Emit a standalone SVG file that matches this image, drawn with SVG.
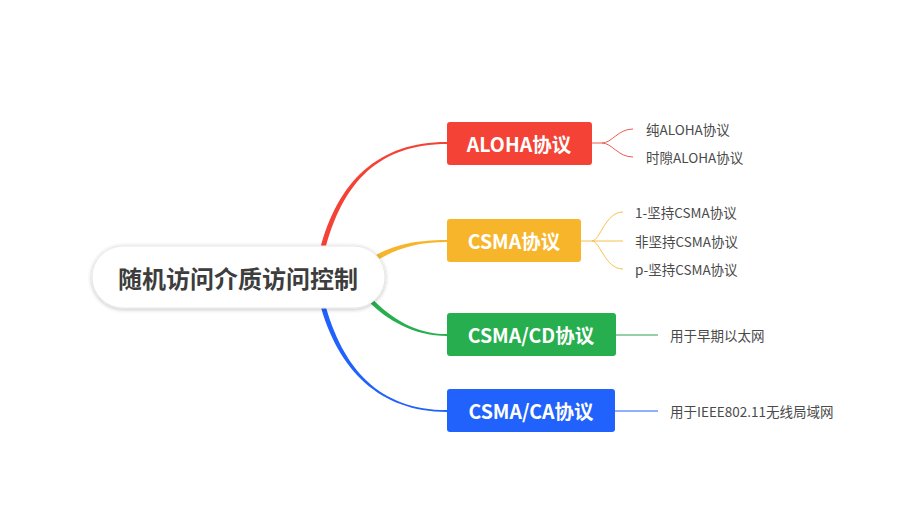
<svg xmlns="http://www.w3.org/2000/svg" width="913" height="517" viewBox="0 0 913 517">
<defs>
<filter id="sh" x="-10%" y="-30%" width="120%" height="160%">
<feGaussianBlur in="SourceAlpha" stdDeviation="2"/>
<feOffset dx="0" dy="1" result="b"/>
<feComponentTransfer><feFuncA type="linear" slope="0.25"/></feComponentTransfer>
<feMerge><feMergeNode/><feMergeNode in="SourceGraphic"/></feMerge>
</filter>
</defs>
<style>
text{font-family:"Noto Sans CJK SC","Microsoft YaHei",sans-serif;}
.main{font-size:24px;font-weight:bold;fill:#3d3d3d;}
.bt{font-size:19.5px;font-weight:bold;fill:#ffffff;}
.st{font-size:13.5px;fill:#4a4a4a;}
.s{fill:none;stroke-width:1;}
</style>
<rect width="913" height="517" fill="#ffffff"/>
<g id="connectors">
<path d="M319.6 251.4 C337.6 179.4 380 141.8 447 142 L447 144 C380 144.2 342.4 180.6 324.4 252.6 Z" fill="#F44336"/>
<path d="M372.75 256.8 C393.75 244.8 415 240 447 240 L447 242 C415 242 396.25 249.2 375.25 261.2 Z" fill="#F7B52C"/>
<path d="M370.6 297.4 C391.6 318.4 415 334 447 334 L447 336 C415 336 388.4 321.6 367.4 300.6 Z" fill="#27AE4E"/>
<path d="M324.4 301.4 C342.4 369.4 380 410 447 410 L447 412 C380 412 337.6 370.6 319.6 302.6 Z" fill="#2062FB"/>
<g stroke="#F05A4E">
<path class="s" d="M592 143 L602 143 C612 143 618 129 633 129"/>
<path class="s" d="M602 143 C612 143 618 157 633 157"/>
</g>
<g stroke="#F7C04A">
<path class="s" d="M581 241 L623 241"/>
<path class="s" d="M592 241 C600 241 605 212 623 212"/>
<path class="s" d="M592 241 C600 241 605 269 623 269"/>
</g>
<path class="s" d="M616 335 L658 335" stroke="#2E9E4E"/>
<path class="s" d="M615 411 L658 411" stroke="#2062FB"/>
</g>
<g id="root">
<rect x="92" y="246" width="293" height="62" rx="31" fill="#ffffff" stroke="#e8e8e8" stroke-width="1" filter="url(#sh)"/>
<text class="main" x="238" y="277" text-anchor="middle" dominant-baseline="central">随机访问介质访问控制</text>
</g>
<g id="aloha">
<rect x="447" y="122" width="145" height="43" rx="3" fill="#F44336"/>
<text class="bt" x="519" y="143.5" text-anchor="middle" dominant-baseline="central">ALOHA协议</text>
</g>
<g id="csma">
<rect x="447" y="219" width="134" height="43" rx="3" fill="#F7B52C"/>
<text class="bt" x="514" y="240.5" text-anchor="middle" dominant-baseline="central">CSMA协议</text>
</g>
<g id="csmacd">
<rect x="447" y="313" width="169" height="43" rx="3" fill="#27AE4E"/>
<text class="bt" x="531" y="334.5" text-anchor="middle" dominant-baseline="central">CSMA/CD协议</text>
</g>
<g id="csmaca">
<rect x="447" y="389" width="168" height="43" rx="3" fill="#2062FB"/>
<text class="bt" x="531" y="410.5" text-anchor="middle" dominant-baseline="central">CSMA/CA协议</text>
</g>
<g id="pure-aloha"><text class="st" x="646" y="129" dominant-baseline="central">纯ALOHA协议</text></g>
<g id="slotted-aloha"><text class="st" x="646" y="157" dominant-baseline="central">时隙ALOHA协议</text></g>
<g id="csma-1"><text class="st" x="635" y="212" dominant-baseline="central">1-坚持CSMA协议</text></g>
<g id="csma-non"><text class="st" x="635" y="241" dominant-baseline="central">非坚持CSMA协议</text></g>
<g id="csma-p"><text class="st" x="635" y="269" dominant-baseline="central">p-坚持CSMA协议</text></g>
<g id="cd-note"><text class="st" x="670" y="335" dominant-baseline="central">用于早期以太网</text></g>
<g id="ca-note"><text class="st" x="670" y="411" dominant-baseline="central">用于IEEE802.11无线局域网</text></g>
</svg>
